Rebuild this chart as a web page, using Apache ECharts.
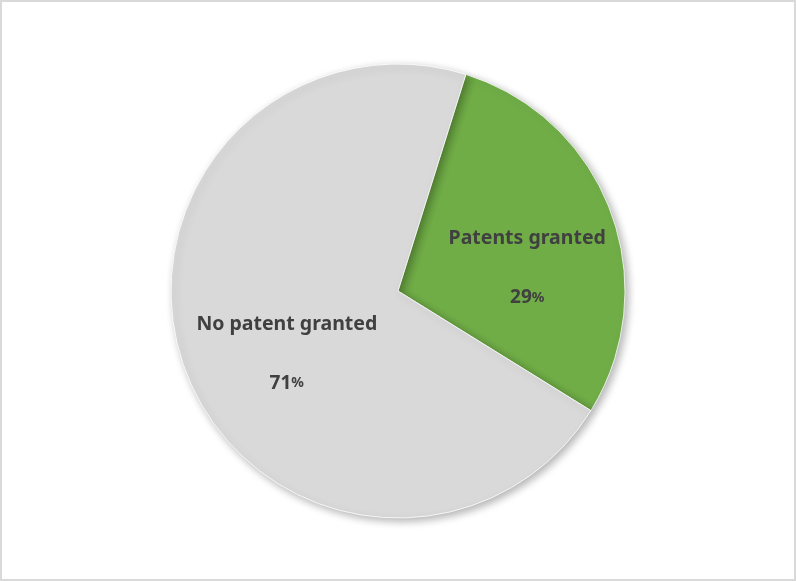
<!DOCTYPE html>
<html><head><meta charset="utf-8">
<script src="https://cdn.jsdelivr.net/npm/echarts@6/dist/echarts.min.js"></script>
<style>html,body{margin:0;padding:0;background:#fff}#c{width:796px;height:581px;box-sizing:border-box;border:2px solid #d9d9d9}</style>
</head><body><div id="c"></div>
<script>
const categories = ['Patents granted', 'No patent granted'];
const values = [29, 71];
const colors = ['#70ad47', '#d9d9d9'];
const labelShift = [[20, 18], [-2, 22]];

const chart = echarts.init(document.getElementById('c'), null, {renderer: 'canvas'});
chart.setOption({
  animation: false,
  series: [{
    type: 'pie',
    center: [396, 289],
    radius: 227,
    startAngle: 72.6,
    clockwise: true,
    data: categories.map((n, i) => ({name: n, value: values[i], itemStyle: {color: colors[i]}})),
    itemStyle: {
      borderColor: '#ffffff', borderWidth: 0.8,
      shadowBlur: 8, shadowOffsetX: 3, shadowOffsetY: 3, shadowColor: 'rgba(0,0,0,0.3)'
    },
    label: {
      show: true, position: 'inside',
      formatter: p => '{n|' + p.name + '}\n{v|' + p.value + '}{s|%}',
      rich: {
        n: {fontFamily: 'Noto Sans', fontWeight: 'bold', fontSize: 19.5, color: '#404040', lineHeight: 59},
        v: {fontFamily: 'Noto Sans', fontWeight: 'bold', fontSize: 19, color: '#404040', lineHeight: 59},
        s: {fontFamily: 'Noto Sans', fontWeight: 'bold', fontSize: 14, color: '#404040', lineHeight: 59}
      }
    },
    labelLayout: p => ({dx: labelShift[p.dataIndex][0], dy: labelShift[p.dataIndex][1]}),
    labelLine: {show: false},
    emphasis: {disabled: true}
  }]
});
</script></body></html>
